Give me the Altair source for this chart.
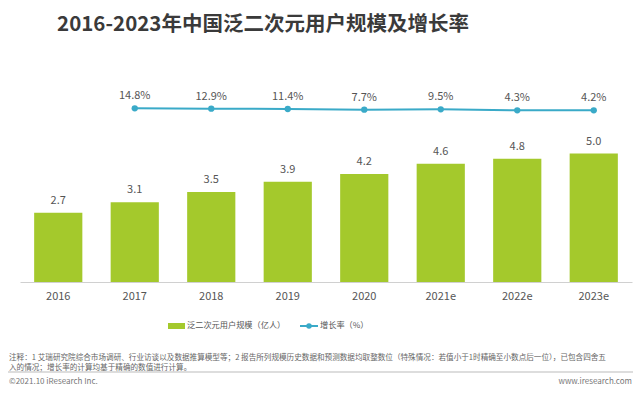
import altair as alt
import pandas as pd

years = ["2016", "2017", "2018", "2019", "2020", "2021e", "2022e", "2023e"]
users = [2.7, 3.1, 3.5, 3.9, 4.2, 4.6, 4.8, 5.0]
growth_years = ["2017", "2018", "2019", "2020", "2021e", "2022e", "2023e"]
growth = [14.8, 12.9, 11.4, 7.7, 9.5, 4.3, 4.2]

FONT = "Noto Sans CJK SC"
GREEN = "#a4c92c"
TEAL = "#3aaac8"

bars_df = pd.DataFrame({"year": years, "users": users})
bars_df["label"] = [f"{v:.1f}" for v in users]
line_df = pd.DataFrame({"year": growth_years, "growth": growth})
line_df["label"] = [f"{v:.1f}%" for v in growth]

W, H = 612, 224
xenc = alt.X("year:N", sort=years, scale=alt.Scale(paddingInner=0.37, paddingOuter=0.185),
             axis=alt.Axis(title=None, labelAngle=0, ticks=False, domainColor="#d0d0d0",
                           labelColor="#555555", labelFontSize=11, labelFont=FONT, labelPadding=8))

yb = alt.Scale(domain=[0, 8.72])
bars = alt.Chart(bars_df).mark_bar(color=GREEN).encode(
    x=xenc, y=alt.Y("users:Q", scale=yb, axis=None))
bar_labels = alt.Chart(bars_df).mark_text(dy=-12, font=FONT, fontSize=11, color="#555555").encode(
    x=alt.X("year:N", sort=years), y=alt.Y("users:Q", scale=yb), text="label:N")

yl = alt.Scale(domain=[-900, 280])
line = alt.Chart(line_df).mark_line(color=TEAL, strokeWidth=2).encode(
    x=alt.X("year:N", sort=years), y=alt.Y("growth:Q", scale=yl, axis=None))
pts = alt.Chart(line_df).mark_point(color=TEAL, filled=True, size=40, opacity=1).encode(
    x=alt.X("year:N", sort=years), y=alt.Y("growth:Q", scale=yl))
line_labels = alt.Chart(line_df).mark_text(dy=-12, font=FONT, fontSize=11, color="#555555").encode(
    x=alt.X("year:N", sort=years), y=alt.Y("growth:Q", scale=yl), text="label:N")

one = pd.DataFrame({"a": [0]})

def txt(s, x, y, size, color="#555555", align="left", weight="normal", lh=None):
    kw = {}
    if lh is not None:
        kw["lineHeight"] = lh
    return alt.Chart(one).mark_text(text=s, font=FONT, fontSize=size, color=color, align=align,
                                    baseline="middle", fontWeight=weight, **kw).encode(
        x=alt.value(x), y=alt.value(y))

# offsets relative to plot origin (page x=20, y=58)
ox, oy = 20, 58
title = txt("2016-2023年中国泛二次元用户规模及增长率", 263 - ox, 25 - oy, 20.5, "#3a3a3a", "center", "bold")
leg_rect = alt.Chart(one).mark_rect(color=GREEN).encode(
    x=alt.value(168 - ox), x2=alt.value(185 - ox), y=alt.value(323 - oy), y2=alt.value(329 - oy))
leg_t1 = txt("泛二次元用户规模（亿人）", 187 - ox, 326 - oy, 8.2)
leg_rule = alt.Chart(one).mark_rule(color=TEAL, strokeWidth=2).encode(
    x=alt.value(300 - ox), x2=alt.value(318 - ox), y=alt.value(326 - oy))
leg_pt = alt.Chart(one).mark_point(color=TEAL, filled=True, size=30, opacity=1).encode(
    x=alt.value(309 - ox), y=alt.value(326 - oy))
leg_t2 = txt("增长率（%）", 320 - ox, 326 - oy, 8.2)
notes = txt(["注释：1 艾瑞研究院综合市场调研、行业访谈以及数据推算模型等；2 报告所列规模历史数据和预测数据均取整数位（特殊情况：若值小于1时精确至小数点后一位），已包含四舍五",
             "入的情况；增长率的计算均基于精确的数值进行计算。"],
            9 - ox, 358 - oy, 7.6, "#666666", lh=10)
sep = alt.Chart(one).mark_rule(color="#bbbbbb", strokeWidth=1).encode(
    x=alt.value(8 - ox), x2=alt.value(633 - ox), y=alt.value(372 - oy))
foot1 = txt("©2021.10 iResearch Inc.", 9 - ox, 382 - oy, 8, "#777777")
foot2 = txt("www.iresearch.com", 632 - ox, 382 - oy, 8, "#777777", "right")

chart = alt.layer(
    alt.layer(bars, bar_labels),
    alt.layer(line, pts, line_labels),
    title, leg_rect, leg_t1, leg_rule, leg_pt, leg_t2, notes, sep, foot1, foot2,
).resolve_scale(y="independent").properties(
    width=W, height=H,
    autosize=alt.AutoSizeParams(type="none"),
    padding={"left": 12, "top": 50, "right": 1, "bottom": 105},
).configure_view(stroke=None)

chart.save("out.html", embed_options={"renderer": "svg", "actions": False})
